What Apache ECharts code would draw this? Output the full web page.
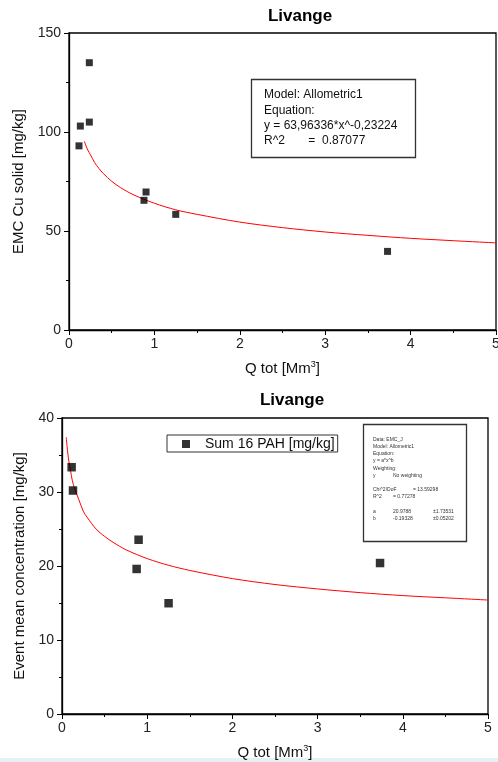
<!DOCTYPE html>
<html>
<head>
<meta charset="utf-8">
<script src="https://cdn.jsdelivr.net/npm/echarts@6/dist/echarts.min.js"></script>
<style>
html,body{margin:0;padding:0;background:#fff;}
#chart{width:498px;height:762px;}
</style>
</head>
<body>
<div id="chart"></div>
<script>
// ---- Data ----
const titleText = 'Livange';
const xTicks = [0, 1, 2, 3, 4, 5];

// Top panel: EMC Cu solid
const cuQ   = [0.117, 0.133, 0.238, 0.238, 0.878, 0.902, 1.25, 3.73];
const cuVal = [93, 103, 135, 105, 65.5, 69.7, 58.4, 39.7];
// fitted curve as drawn
const cuFitQ   = [0.18, 0.2, 0.22, 0.25, 0.3, 0.35, 0.4, 0.5, 0.6, 0.75, 1.0, 1.25, 1.5, 2.0, 2.5, 3.0, 3.5, 4.0, 4.5, 5.0];
const cuFitVal = [95.3, 92.9, 90.9, 88.6, 84.6, 81.6, 79.1, 75.1, 72.0, 68.4, 64.0, 60.7, 58.4, 54.5, 51.7, 49.5, 47.8, 46.3, 45.1, 44.0];
const cuYTicks = [0, 50, 100, 150];

// Bottom panel: Sum 16 PAH
const pahName = 'Sum 16 PAH [mg/kg]';
const pahQ   = [0.113, 0.129, 0.876, 0.899, 1.251, 3.733];
const pahVal = [33.35, 30.2, 19.6, 23.55, 14.97, 20.4];
const pahFitQ   = [0.05, 0.06, 0.07, 0.08, 0.1, 0.12, 0.15, 0.2, 0.25, 0.3, 0.4, 0.5, 0.6, 0.75, 1.0, 1.25, 1.5, 2.0, 2.5, 3.0, 3.5, 4.0, 4.5, 5.0];
const pahFitVal = [37.4, 36.1, 35.05, 34.2, 32.9, 31.6, 30.4, 28.9, 27.4, 26.5, 25.0, 24.0, 23.2, 22.2, 21.0, 20.1, 19.4, 18.3, 17.5, 16.9, 16.4, 16.0, 15.7, 15.4];
const pahYTicks = [0, 10, 20, 30, 40];

const cuNote = ['Model: Allometric1', 'Equation:', 'y = 63,96336*x^-0,23224', 'R^2       =  0.87077'];
const pahNote = [
  ['Data: EMC_J', '', ''],
  ['Model: Allometric1', '', ''],
  ['Equation:', '', ''],
  ['y = a*x^b', '', ''],
  ['Weighting:', '', ''],
  ['y', 'No weighting', ''],
  ['', '', ''],
  ['Chi^2/DoF', '', '= 13.59298'],
  ['R^2', '= 0.77278', ''],
  ['', '', ''],
  ['a', '20.9788', '±1.73531'],
  ['b', '-0.19328', '±0.05202']
];

// ---- Chart ----
const FONT = '"Liberation Sans", Arial, sans-serif';
const chart = echarts.init(document.getElementById('chart'), null, {renderer: 'canvas'});

function xAxis(gridIndex, nameGap) {
  return {
    gridIndex, type: 'value', min: 0, max: 5, interval: 1,
    name: 'Q tot [Mm{sup|3}]', nameLocation: 'middle', nameGap,
    nameTextStyle: {fontFamily: FONT, fontSize: 15, color: '#111',
      rich: {sup: {fontSize: 9, fontFamily: FONT, color: '#111', verticalAlign: 'top', padding: [0, 0, 8, 0]}}},
    axisLine: {show: true, onZero: false, lineStyle: {color: '#000', width: 1.3}},
    axisTick: {show: true, inside: false, length: 5, lineStyle: {color: '#000'}},
    minorTick: {show: true, splitNumber: 2, length: 3, lineStyle: {color: '#000'}},
    splitLine: {show: false},
    axisLabel: {fontFamily: FONT, fontSize: 14, color: '#222', margin: 7}
  };
}
function yAxis(gridIndex, max, interval, name, nameGap) {
  return {
    gridIndex, type: 'value', min: 0, max, interval,
    name, nameLocation: 'middle', nameGap, nameRotate: 90,
    nameTextStyle: {fontFamily: FONT, fontSize: 15, color: '#111'},
    axisLine: {show: true, onZero: false, lineStyle: {color: '#000', width: 1.3}},
    axisTick: {show: true, inside: false, length: 5, lineStyle: {color: '#000'}},
    minorTick: {show: true, splitNumber: 2, length: 3, lineStyle: {color: '#000'}},
    splitLine: {show: false},
    axisLabel: {fontFamily: FONT, fontSize: 14, color: '#222', margin: 8}
  };
}

const noteTop = cuNote.map((t, i) => ({
  type: 'text', left: 264, top: 89 + i * 15.3,
  style: {text: t, font: '12px ' + FONT, fill: '#111'}
}));
const noteBottom = [];
pahNote.forEach((row, i) => {
  const cols = [373, 393, 413];
  row.forEach((t, j) => {
    if (!t) return;
    let x = cols[j];
    if (i >= 10 && j === 2) x = 433;
    noteBottom.push({
      type: 'text', left: x, top: 437 + i * 7.2,
      style: {text: t, font: '5px ' + FONT, fill: '#333'}
    });
  });
});

const option = {
  backgroundColor: '#fff',
  animation: false,
  title: [
    {text: titleText, left: 295, top: 3, textAlign: 'center',
     textStyle: {fontFamily: FONT, fontSize: 17, fontWeight: 'bold', color: '#000'}},
    {text: titleText, left: 287, top: 387, textAlign: 'center',
     textStyle: {fontFamily: FONT, fontSize: 17, fontWeight: 'bold', color: '#000'}}
  ],
  legend: {
    data: [pahName], left: 167, top: 435, orient: 'horizontal',
    icon: 'rect', itemWidth: 8, itemHeight: 8,
    padding: [2, 3, 1, 15],
    borderColor: '#333', borderWidth: 1,
    textStyle: {fontFamily: FONT, fontSize: 14, color: '#111', padding: [0, 0, 0, 10]}
  },
  grid: [
    {left: 69, top: 33, width: 427, height: 297, show: true, borderColor: '#000', borderWidth: 1.3,
     backgroundColor: 'transparent', containLabel: false, outerBoundsMode: 'none'},
    {left: 62, top: 418, width: 426, height: 296, show: true, borderColor: '#000', borderWidth: 1.3,
     backgroundColor: 'transparent', containLabel: false, outerBoundsMode: 'none'}
  ],
  xAxis: [xAxis(0, 30), xAxis(1, 30)],
  yAxis: [yAxis(0, 150, 50, 'EMC Cu solid [mg/kg]', 39), yAxis(1, 40, 10, 'Event mean concentration [mg/kg]', 31)],
  series: [
    {name: 'Allometric1 fit (Cu)', type: 'line', xAxisIndex: 0, yAxisIndex: 0, smooth: 0.3, showSymbol: false,
     lineStyle: {color: '#ff0000', width: 1}, data: cuFitQ.map((q, i) => [q, cuFitVal[i]]), z: 2},
    {name: 'EMC Cu solid', type: 'scatter', xAxisIndex: 0, yAxisIndex: 0, symbol: 'rect', symbolSize: 7,
     itemStyle: {color: '#000'}, data: cuQ.map((q, i) => [q, cuVal[i]]), z: 3},
    {name: 'Allometric1 fit (PAH)', type: 'line', xAxisIndex: 1, yAxisIndex: 1, smooth: 0.3, showSymbol: false,
     lineStyle: {color: '#ff0000', width: 1}, data: pahFitQ.map((q, i) => [q, pahFitVal[i]]), z: 2},
    {name: pahName, type: 'scatter', xAxisIndex: 1, yAxisIndex: 1, symbol: 'rect', symbolSize: 8.5,
     itemStyle: {color: '#000'}, data: pahQ.map((q, i) => [q, pahVal[i]]), z: 3}
  ],
  graphic: [
    {type: 'rect', shape: {x: 251.5, y: 79.5, width: 164, height: 78}, style: {fill: '#fff', stroke: '#333', lineWidth: 1.3}, z: 10},
    ...noteTop.map(o => Object.assign(o, {z: 11})),
    {type: 'rect', shape: {x: 363.5, y: 424.5, width: 103, height: 117}, style: {fill: '#fff', stroke: '#333', lineWidth: 1.3}, z: 10},
    ...noteBottom.map(o => Object.assign(o, {z: 11})),
    {type: 'rect', shape: {x: 0, y: 758, width: 498, height: 4}, style: {fill: '#e6f0f5'}, z: 0}
  ]
};
chart.setOption(option);
</script>
</body>
</html>
